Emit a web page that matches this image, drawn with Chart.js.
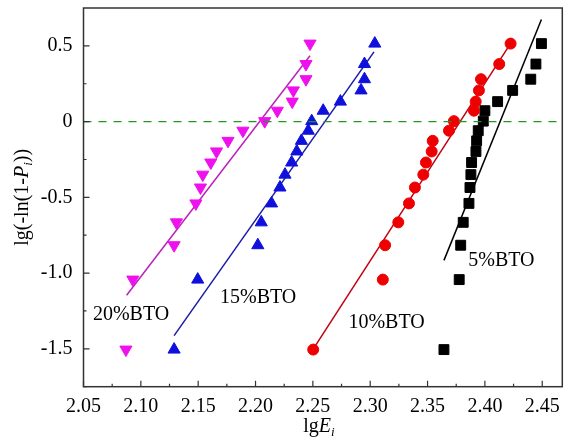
<!DOCTYPE html>
<html>
<head>
<meta charset="utf-8">
<script src="https://cdn.jsdelivr.net/npm/chart.js@4.4.1/dist/chart.umd.min.js"></script>
<style>
html, body { margin: 0; padding: 0; background: #fff; }
#wrap { width: 571px; height: 445px; }
</style>
</head>
<body>
<div id="wrap"><canvas id="weibull" width="571" height="445"></canvas></div>
<script>
// lg(-ln(1-Pi)) of each ranked sample (same ranks for every film)
const probY = [0.515, 0.38, 0.28, 0.206, 0.132, 0.072, 0.003, -0.06, -0.127, -0.197,
               -0.27, -0.35, -0.435, -0.54, -0.665, -0.816, -1.043, -1.505];

// lgEi per film, ordered like probY
const x20 = [2.2475, 2.244, 2.244, 2.233, 2.232, 2.219, 2.208, 2.189, 2.176, 2.166,
             2.161, 2.154, 2.152, 2.148, 2.131, 2.129, 2.093, 2.087];
const x15 = [2.304, 2.295, 2.295, 2.292, 2.274, 2.259, 2.249, 2.246, 2.240, 2.236,
             2.2315, 2.2257, 2.2213, 2.214, 2.205, 2.202, 2.1496, 2.129];
const x10 = [2.4224, 2.4125, 2.3966, 2.3948, 2.392, 2.3905, 2.373, 2.3687, 2.3545, 2.3536,
             2.3486, 2.3463, 2.339, 2.3338, 2.3245, 2.313, 2.311, 2.2503];
const x5 = [2.4493, 2.4445, 2.44, 2.4242, 2.4111, 2.4, 2.3986, 2.3942, 2.3928, 2.3922,
            2.3884, 2.3878, 2.387, 2.3861, 2.3811, 2.3789, 2.3776, 2.3643];

// fitted lines, [x, y] end points
const fit20 = [[2.0876, -1.146], [2.2475, 0.435]];
const fit15 = [[2.129, -1.413], [2.3033, 0.46]];
const fit10 = [[2.25, -1.505], [2.4247, 0.543]];
const fit5 = [[2.3643, -0.916], [2.4493, 0.674]];
const zeroLine = [[2.05, 0], [2.465, 0]];

const seriesNames = ['20%BTO', '15%BTO', '10%BTO', '5%BTO'];
const namePos = [[2.0582, -1.276], [2.169, -1.165], [2.281, -1.331], [2.3855, -0.916]];

const xTicks = [2.05, 2.10, 2.15, 2.20, 2.25, 2.30, 2.35, 2.40, 2.45];
const yTicks = [-1.5, -1.0, -0.5, 0, 0.5];
const yTickText = ['-1.5', '-1.0', '-0.5', '0', '0.5'];

const SERIF = '"Liberation Serif", "Times New Roman", serif';

function pts(xs) {
    return xs.map((x, i) => ({ x: x, y: probY[i] }));
}
function seg(p) {
    return p.map(v => ({ x: v[0], y: v[1] }));
}

function fitSet(p, color) {
    return { data: seg(p), showLine: true, borderColor: color, borderWidth: 1.5,
             pointRadius: 0, fill: false };
}
function markSet(xs, color, style, r, rot) {
    return { data: pts(xs), showLine: false, backgroundColor: color, borderColor: color,
             borderWidth: 1, pointStyle: style, pointRadius: r, pointRotation: rot || 0 };
}

const decor = {
    id: 'decor',
    afterDraw(chart) {
        const ctx = chart.ctx;
        const a = chart.chartArea;
        const xs = chart.scales.x, ys = chart.scales.y;
        ctx.save();
        ctx.strokeStyle = '#333';
        ctx.lineWidth = 1.5;
        ctx.strokeRect(a.left, a.top, a.right - a.left, a.bottom - a.top);

        ctx.lineWidth = 1.2;
        ctx.beginPath();
        xTicks.forEach(v => {
            let p = xs.getPixelForValue(v);
            ctx.moveTo(p, a.bottom); ctx.lineTo(p, a.bottom - 6);
            p = xs.getPixelForValue(v + 0.025);
            if (p < a.right - 2) { ctx.moveTo(p, a.bottom); ctx.lineTo(p, a.bottom - 3); }
        });
        yTicks.forEach(v => {
            let p = ys.getPixelForValue(v);
            ctx.moveTo(a.left, p); ctx.lineTo(a.left + 6, p);
            p = ys.getPixelForValue(v - 0.25);
            ctx.moveTo(a.left, p); ctx.lineTo(a.left + 3, p);
        });
        let p = ys.getPixelForValue(0.25);
        ctx.moveTo(a.left, p); ctx.lineTo(a.left + 3, p);
        ctx.stroke();

        // series names
        ctx.fillStyle = '#000';
        ctx.font = '20px ' + SERIF;
        ctx.textBaseline = 'middle';
        ctx.textAlign = 'left';
        seriesNames.forEach((s, i) => {
            ctx.fillText(s, xs.getPixelForValue(namePos[i][0]), ys.getPixelForValue(namePos[i][1]));
        });

        // axis titles
        ctx.textBaseline = 'alphabetic';
        drawPieces(ctx, [['lg', ''], ['E', 'italic '], ['i', 'italic ', true]],
                   (a.left + a.right) / 2 - 4, 432);
        ctx.save();
        ctx.translate(28, (a.top + a.bottom) / 2);
        ctx.rotate(-Math.PI / 2);
        drawPieces(ctx, [['lg(-ln(1-', ''], ['P', 'italic '], ['i', 'italic ', true], ['))', '']], 0, 0);
        ctx.restore();
        ctx.restore();
    }
};

function drawPieces(ctx, parts, cx, base) {
    let w = 0;
    parts.forEach(pp => {
        ctx.font = pp[1] + (pp[2] ? '13px ' : '20px ') + SERIF;
        w += ctx.measureText(pp[0]).width;
    });
    let x = cx - w / 2;
    ctx.textAlign = 'left';
    parts.forEach(pp => {
        ctx.font = pp[1] + (pp[2] ? '13px ' : '20px ') + SERIF;
        ctx.fillText(pp[0], x, base + (pp[2] ? 4 : 0));
        x += ctx.measureText(pp[0]).width;
    });
}

new Chart(document.getElementById('weibull').getContext('2d'), {
    type: 'scatter',
    data: {
        datasets: [
            { data: seg(zeroLine), showLine: true, borderColor: '#1e9a1e', borderWidth: 1.2,
              borderDash: [8, 7], pointRadius: 0, fill: false },
            markSet(x20, '#ee11ee', 'triangle', 7, 180),
            markSet(x15, '#1010dd', 'triangle', 7, 0),
            markSet(x10, '#ee0000', 'circle', 5.5, 0),
            markSet(x5, '#000000', 'rect', 7, 0),
            fitSet(fit20, '#bb22bb'),
            fitSet(fit15, '#1a1aa8'),
            fitSet(fit10, '#c00010'),
            fitSet(fit5, '#000000')
        ]
    },
    options: {
        responsive: false,
        animation: false,
        devicePixelRatio: 1,
        layout: { padding: { top: 5, right: 8.7, left: 0, bottom: 0 } },
        plugins: { legend: { display: false }, tooltip: { enabled: false } },
        scales: {
            x: {
                type: 'linear', min: 2.05, max: 2.4675,
                grid: { display: false }, border: { display: false },
                afterBuildTicks: s => { s.ticks = xTicks.map(v => ({ value: v })); },
                afterFit: s => { s.height = 58.3; s.paddingLeft = 0; s.paddingRight = 0; },
                ticks: { color: '#000', padding: 0, maxRotation: 0,
                         font: { family: SERIF, size: 20 },
                         callback: v => v.toFixed(2) }
            },
            y: {
                type: 'linear', min: -1.75, max: 0.75,
                grid: { display: false }, border: { display: false },
                afterBuildTicks: s => { s.ticks = yTicks.map(v => ({ value: v })); },
                afterFit: s => { s.width = 83.5; s.paddingTop = 0; s.paddingBottom = 0; },
                ticks: { color: '#000', padding: 3,
                         font: { family: SERIF, size: 20 },
                         callback: v => yTickText[yTicks.indexOf(v)] }
            }
        }
    },
    plugins: [decor]
});
</script>
</body>
</html>
